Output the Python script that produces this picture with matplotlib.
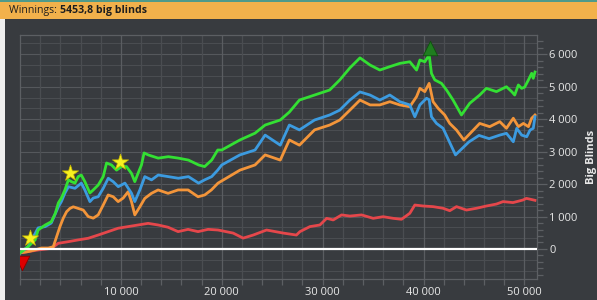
import numpy as np
import matplotlib.pyplot as plt
from matplotlib.ticker import MultipleLocator, FuncFormatter
from matplotlib.patches import Rectangle

# hands played / big blinds won
green_x = [0, 800, 1500, 1800, 2500, 3100, 3500, 3800, 4100, 4450, 4800, 5100, 5450, 5770, 6080,
           6430, 6930, 7260, 7750, 8250, 8580, 9070, 9570, 10060, 10550, 11050, 11380, 11710,
           12040, 12300, 12700, 13700, 14700, 15700, 16700, 17700, 18300, 19000, 19600, 20000,
           21800, 23300, 24300, 25800, 26700, 27700, 29200, 30700, 31700, 32700, 33700, 34700,
           35670, 36660, 37650, 38640, 39310, 39640, 40130, 40560, 40790, 41120, 41780, 42280,
           42930, 43760, 44580, 45570, 46230, 47230, 47560, 48220, 48740, 49040, 49400, 49730,
           50030, 50400, 50720, 50880, 51050]
green_y = [-120, 70, 280, 585, 740, 840, 1100, 1420, 1570, 1820, 2130, 2075, 2030, 2230, 2280,
           2075, 1725, 1820, 1970, 2230, 2650, 2590, 2430, 2540, 2540, 2330, 2075, 2340,
           2590, 2960, 2900, 2800, 2845, 2800, 2740, 2590, 2540, 2740, 3050, 3050,
           3360, 3570, 3820, 3975, 4220, 4590, 4745, 4900, 5210, 5580, 5890, 5670,
           5515, 5620, 5720, 5770, 5515, 5825, 5770, 5980, 5410, 5210, 5105, 4900,
           4590, 4130, 4490, 4745, 4950, 4850, 4900, 5000, 4850, 4745, 5055, 4950,
           4990, 5210, 5415, 5260, 5454]

blue_x = [0, 800, 1800, 2500, 3100, 3800, 4100, 4450, 4800, 5450, 6080, 6430, 6930, 7260, 7750,
          8250, 8750, 9240, 9740, 10400, 11050, 11380, 11880, 12370, 13040, 13700, 14700, 15700,
          16700, 17700, 18300, 19000, 19600, 20000, 21800, 23300, 24300, 25800, 26700, 27700,
          29200, 30700, 31700, 32700, 33700, 34700, 35670, 36660, 37650, 38640, 39140, 39640,
          40300, 40560, 40790, 41290, 41940, 43170, 44500, 45500, 46500, 47560, 48220, 48900,
          49240, 49730, 50230, 50560, 50880, 51050]
blue_y = [-120, 70, 650, 690, 800, 1300, 1460, 1720, 1920, 1870, 2030, 1820, 1460, 1570, 1610,
          1870, 2180, 2075, 1920, 2030, 1720, 1460, 1820, 2230, 2130, 2280, 2230, 2180,
          2230, 2030, 2130, 2230, 2430, 2590, 2900, 3050, 3510, 3200, 3820, 3670,
          3975, 4130, 4280, 4590, 4840, 4745, 4590, 4745, 4540, 4440, 4075, 4440,
          4645, 4600, 4075, 3870, 3720, 2900, 3300, 3500, 3400, 3510, 3565, 3305,
          3720, 3510, 3460, 3665, 3720, 4075]

orange_x = [0, 820, 1460, 2140, 2800, 3300, 3630, 3960, 4290, 4620, 4950, 5280, 5770, 6270, 6760,
            7260, 7750, 8250, 8740, 9240, 9730, 10230, 10720, 11050, 11380, 11880, 12370, 13030,
            13690, 14680, 15670, 16660, 17650, 18310, 18970, 19630, 21800, 23300, 24300, 25800,
            26700, 27700, 29200, 30700, 31700, 32700, 33700, 34700, 35670, 36660, 37650, 38640,
            39310, 39640, 40130, 40560, 40950, 41450, 42100, 42600, 43270, 44000, 45570, 46560,
            47560, 48220, 48900, 49400, 49900, 50400, 50720, 51050]
orange_y = [-120, -80, -30, 30, 30, 70, 380, 690, 950, 1150, 1250, 1300, 1250, 1200, 1000,
            950, 1050, 1355, 1665, 1610, 1460, 1570, 1765, 1460, 1050, 1300, 1560, 1715,
            1820, 1715, 1820, 1820, 1610, 1665, 1820, 2030, 2430, 2590, 2900, 2740,
            3360, 3200, 3670, 3820, 3975, 4280, 4590, 4440, 4440, 4540, 4440, 4385,
            4695, 4950, 4850, 5105, 4540, 4335, 4130, 3870, 3665, 3360, 3870, 3770,
            3925, 3720, 4030, 3770, 3870, 3770, 4030, 4130]

red_x = [0, 1810, 3130, 3790, 4780, 5770, 6760, 7750, 8740, 9730, 10720, 11710, 12700, 13690,
         14680, 15670, 16660, 17650, 18640, 19630, 21130, 22120, 23120, 24440, 26100, 27400,
         27750, 28740, 29730, 30400, 31050, 31880, 32700, 33860, 35010, 36000, 36990, 37820,
         38640, 39140, 39960, 40950, 41940, 42600, 43270, 44260, 45250, 46240, 47230, 47880,
         48870, 49860, 50200, 51050]
red_y = [-120, -30, 20, 175, 225, 280, 330, 430, 535, 640, 690, 740, 790, 740,
         670, 535, 605, 535, 605, 585, 490, 335, 430, 585, 490, 430,
         535, 690, 740, 945, 895, 1050, 1015, 1050, 945, 995, 945, 915,
         1100, 1355, 1325, 1305, 1255, 1180, 1305, 1200, 1255, 1325, 1385, 1460,
         1430, 1510, 1560, 1500]

star_x = [1000, 5000, 9950]
star_y = [340, 2340, 2680]
low_x, low_y = [200], [-430]
high_x, high_y = [40600], [6200]

title_plain = "Winnings: "
title_bold = "5453,8 big blinds"
ylabel = "Big Blinds"

bg = "#383b3f"
fig = plt.figure(figsize=(5.97, 3.0), dpi=100, facecolor=bg)

# header bar and left strip
fig.patches.append(Rectangle((0, 1 - 19 / 300), 1, 17 / 300, transform=fig.transFigure,
                             facecolor="#f2b14b", edgecolor="none", zorder=0))
fig.patches.append(Rectangle((0, 1 - 2 / 300), 1, 2 / 300, transform=fig.transFigure,
                             facecolor="#4f9a8a", edgecolor="none", zorder=0))
fig.patches.append(Rectangle((0, 0), 5 / 597, 1 - 19 / 300, transform=fig.transFigure,
                             facecolor="#eeeeee", edgecolor="none", zorder=0))
t1 = fig.text(9 / 597, 1 - 10.5 / 300, title_plain, fontsize=7.6, family="Open Sans",
              color="#1e1e1e", va="center")
fig.canvas.draw()
bb = t1.get_window_extent()
fig.text(bb.x1 / 597, 1 - 10.5 / 300, title_bold, fontsize=7.6, family="Open Sans",
         fontweight="bold", color="#1e1e1e", va="center")

ax = fig.add_axes([20 / 597, 21 / 300, 516.5 / 597, 244 / 300])
ax.set_facecolor(bg)
ax.set_xlim(0, 51200)
ax.set_ylim(-925, 6595)

for v in np.arange(-1000, 7000, 1000 / 3):
    ax.axhline(v, color="#4a4d51", lw=0.8, zorder=0)
for v in range(1000, 7000, 1000):
    ax.axhline(v, color="#55585c", lw=0.8, zorder=0)
for v in range(2000, 52000, 2000):
    c = "#5a5d61" if v % 10000 == 0 else "#4a4d51"
    ax.axvline(v, color=c, lw=0.9, zorder=0)

ax.plot(red_x, red_y, color="#e5474b", lw=2.0, zorder=3)
ax.plot(orange_x, orange_y, color="#f3953a", lw=2.0, zorder=4)
ax.plot(blue_x, blue_y, color="#3c9be0", lw=2.0, zorder=5)
ax.plot(green_x, green_y, color="#33e033", lw=2.0, zorder=6)
ax.axhline(0, color="white", lw=1.6, zorder=7)

ax.scatter(star_x, star_y, marker="*", s=150, color="#f8f020", edgecolor="#c8b800",
           linewidth=0.5, zorder=8)
ax.scatter(low_x, low_y, marker="v", s=110, color="#dd0000", edgecolor="#8a0000",
           linewidth=0.6, zorder=8)
ax.scatter(high_x, high_y, marker="^", s=110, color="#1f7d1f", edgecolor="#0f4f0f",
           linewidth=0.6, zorder=8)

fmt = FuncFormatter(lambda v, p: f"{int(v):,}".replace(",", " "))
xfmt = FuncFormatter(lambda v, p: "" if v <= 0 else f"{int(v):,}".replace(",", " "))
ax.xaxis.set_major_locator(MultipleLocator(10000))
ax.xaxis.set_minor_locator(MultipleLocator(2000))
ax.xaxis.set_major_formatter(xfmt)
ax.yaxis.set_major_locator(MultipleLocator(1000))
ax.yaxis.set_minor_locator(MultipleLocator(200))
ax.yaxis.set_major_formatter(fmt)
ax.yaxis.tick_right()
ax.yaxis.set_label_position("right")
ax.tick_params(axis="both", which="both", colors="#5c5f63", labelcolor="#e8e8e8",
               labelsize=8)
ax.tick_params(axis="x", which="both", length=4, width=0.9, pad=2)
ax.tick_params(axis="y", which="major", length=7, width=0.9, pad=2)
ax.tick_params(axis="y", which="minor", length=4, width=0.9)
for lab in ax.get_xticklabels() + ax.get_yticklabels():
    lab.set_family("Open Sans")
ax.set_ylabel(ylabel, color="#e8e8e8", fontsize=8, fontweight="bold", family="Open Sans",
              labelpad=6)
for s in ax.spines.values():
    s.set_color("#5c5f63")
    s.set_linewidth(0.9)

fig.savefig("out.png", dpi=100, facecolor=bg)
